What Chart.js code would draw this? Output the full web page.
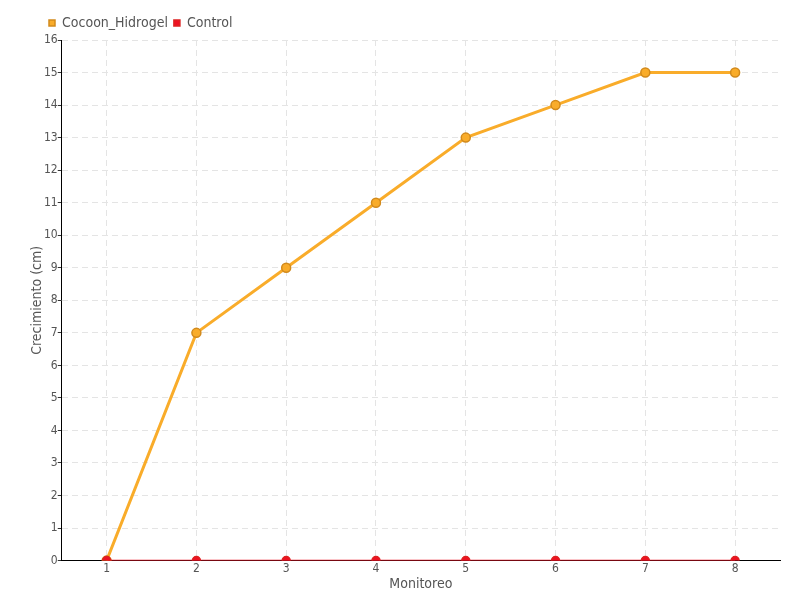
<!DOCTYPE html>
<html>
<head>
<meta charset="utf-8">
<script src="https://cdn.jsdelivr.net/npm/chart.js@4/dist/chart.umd.min.js"></script>
<style>
  html, body { margin: 0; padding: 0; background: #fff; }
  #wrap { width: 800px; height: 600px; }
</style>
</head>
<body>
<div id="wrap"><canvas id="myChart" width="800" height="600"></canvas></div>
<script>
var categories = ['1', '2', '3', '4', '5', '6', '7', '8'];
var cocoonValues = [0, 7, 9, 11, 13, 14, 15, 15];
var controlValues = [0, 0, 0, 0, 0, 0, 0, 0];
var yMin = 0, yMax = 16, yStep = 1;

Chart.defaults.font.family = "'DejaVu Sans Condensed', 'Roboto', sans-serif";
Chart.defaults.font.size = 12;
Chart.defaults.color = '#555';

// legend sits a bit right of the chart's left edge
var legendShift = {
    id: 'legendShift',
    afterLayout: function(chart) {
        chart.legend.left += 13;
    }
};

var config = {
    type: 'line',
    data: {
        labels: categories,
        datasets: [{
            label: 'Cocoon_Hidrogel',
            data: cocoonValues,
            borderColor: '#f9ac2a',
            backgroundColor: '#f9ac2a',
            pointBackgroundColor: '#f9ac2a',
            pointBorderColor: '#d28a1c',
            pointBorderWidth: 1.5,
            pointRadius: 4.5,
            borderWidth: 3,
            order: 1
        }, {
            label: 'Control',
            data: controlValues,
            borderColor: '#ee1122',
            backgroundColor: '#ee1122',
            pointBackgroundColor: '#ee1122',
            pointBorderColor: '#dd2222',
            pointRadius: 4,
            borderWidth: 1.5,
            order: 0
        }]
    },
    options: {
        responsive: false,
        animation: false,
        layout: { padding: { left: 30, right: 20, top: 10, bottom: 9 } },
        plugins: {
            legend: {
                position: 'top',
                align: 'start',
                labels: {
                    usePointStyle: true,
                    pointStyle: 'rect',
                    boxWidth: 6,
                    boxHeight: 6,
                    padding: 6,
                    font: { size: 14 },
                    color: '#555',
                    sort: function(a, b) { return a.datasetIndex - b.datasetIndex; }
                }
            },
            tooltip: { enabled: false }
        },
        scales: {
            x: {
                offset: true,
                grid: {
                    offset: false,
                    color: '#e4e4e4',
                    drawTicks: false
                },
                border: { color: '#000', width: 1, dash: [6, 4] },
                ticks: { color: '#555', padding: 1 },
                title: { display: true, text: 'Monitoreo', color: '#555', font: { size: 14, lineHeight: 1 }, padding: 0 }
            },
            y: {
                min: yMin,
                max: yMax,
                grid: {
                    color: '#e4e4e4',
                    tickColor: '#333',
                    tickLength: 4,
                    tickBorderDash: []
                },
                border: { color: '#000', width: 1, dash: [6, 4] },
                ticks: { stepSize: yStep, color: '#555', padding: 0 },
                title: { display: true, text: 'Crecimiento (cm)', color: '#555', font: { size: 14, lineHeight: 1 }, padding: 0 }
            }
        }
    },
    plugins: [legendShift]
};

var chart = new Chart(document.getElementById('myChart').getContext('2d'), config);
</script>
</body>
</html>
